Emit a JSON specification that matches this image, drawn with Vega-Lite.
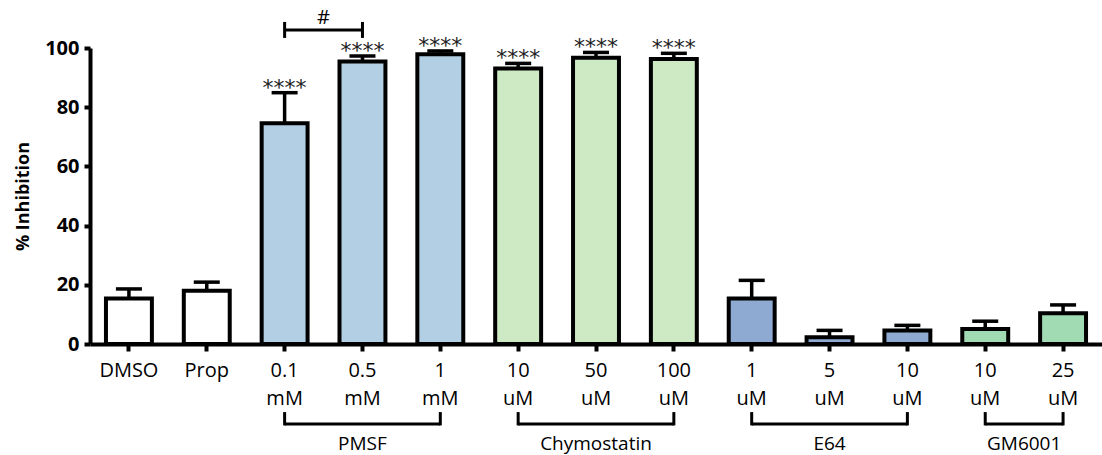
{
  "$schema": "https://vega.github.io/schema/vega-lite/v6.json",
  "width": 1012,
  "height": 296,
  "autosize": {"type": "none"},
  "padding": {"left": 90, "top": 48, "right": 0, "bottom": 111},
  "background": "white",
  "config": {
    "view": {"stroke": null},
    "font": "Open Sans",
    "axis": {"grid": false, "domainColor": "black", "tickColor": "black", "labelColor": "black", "titleColor": "black"}
  },
  "datasets": {
    "bars": [
      {"key": "DMSO", "group": "Control", "value": 15.4, "upper": 18.6, "sig": ""},
      {"key": "Prop", "group": "Control", "value": 18.0, "upper": 20.9, "sig": ""},
      {"key": "PMSF|0.1|mM", "group": "PMSF", "value": 74.6, "upper": 84.9, "sig": "****"},
      {"key": "PMSF|0.5|mM", "group": "PMSF", "value": 95.4, "upper": 97.3, "sig": "****"},
      {"key": "PMSF|1|mM", "group": "PMSF", "value": 97.9, "upper": 99.0, "sig": "****"},
      {"key": "Chymostatin|10|uM", "group": "Chymostatin", "value": 93.1, "upper": 94.8, "sig": "****"},
      {"key": "Chymostatin|50|uM", "group": "Chymostatin", "value": 96.7, "upper": 98.5, "sig": "****"},
      {"key": "Chymostatin|100|uM", "group": "Chymostatin", "value": 96.3, "upper": 98.2, "sig": "****"},
      {"key": "E64|1|uM", "group": "E64", "value": 15.4, "upper": 21.5, "sig": ""},
      {"key": "E64|5|uM", "group": "E64", "value": 2.3, "upper": 4.6, "sig": ""},
      {"key": "E64|10|uM", "group": "E64", "value": 4.6, "upper": 6.3, "sig": ""},
      {"key": "GM6001|10|uM", "group": "GM6001", "value": 5.1, "upper": 7.7, "sig": ""},
      {"key": "GM6001|25|uM", "group": "GM6001", "value": 10.4, "upper": 13.2, "sig": ""}
    ],
    "groups": [
      {"group": "PMSF", "start": "PMSF|0.1|mM", "end": "PMSF|1|mM", "mid": "PMSF|0.5|mM", "even": false},
      {"group": "Chymostatin", "start": "Chymostatin|10|uM", "end": "Chymostatin|100|uM", "mid": "Chymostatin|50|uM", "even": false},
      {"group": "E64", "start": "E64|1|uM", "end": "E64|10|uM", "mid": "E64|5|uM", "even": false},
      {"group": "GM6001", "start": "GM6001|10|uM", "end": "GM6001|25|uM", "mid": "GM6001|10|uM", "even": true}
    ],
    "compare": [
      {"label": "#", "start": "PMSF|0.1|mM", "end": "PMSF|0.5|mM"}
    ]
  },
  "layer": [
    {
      "data": {"name": "bars"},
      "mark": {"type": "rule", "color": "black", "strokeWidth": 3.5},
      "encoding": {
        "x": {
          "field": "key", "type": "nominal",
          "scale": {
            "domain": ["DMSO", "Prop", "PMSF|0.1|mM", "PMSF|0.5|mM", "PMSF|1|mM", "Chymostatin|10|uM", "Chymostatin|50|uM", "Chymostatin|100|uM", "E64|1|uM", "E64|5|uM", "E64|10|uM", "GM6001|10|uM", "GM6001|25|uM"],
            "paddingInner": 0.41, "paddingOuter": 0.205
          },
          "axis": {
            "title": null,
            "labelAngle": 0,
            "labelExpr": "indexof(datum.value, '|') >= 0 ? slice(split(datum.value, '|'), 1) : datum.value",
            "labelFont": "Open Sans",
            "labelFontSize": 20,
            "labelLineHeight": 28,
            "labelPadding": 9,
            "labelBaseline": "top",
            "domainWidth": 4,
            "tickWidth": 4,
            "tickSize": 7
          }
        },
        "y": {
          "field": "value", "type": "quantitative",
          "scale": {"domain": [0, 100], "nice": false, "zero": true},
          "axis": {
            "title": "% Inhibition",
            "titleFont": "Open Sans",
            "titleFontSize": 18,
            "titleFontWeight": "bold",
            "titlePadding": 12,
            "values": [0, 20, 40, 60, 80, 100],
            "labelFont": "Open Sans",
            "labelFontSize": 20,
            "labelFontWeight": "bold",
            "labelPadding": 5,
            "domainWidth": 4,
            "tickWidth": 4,
            "tickSize": 6
          }
        },
        "y2": {"field": "upper"}
      }
    },
    {
      "data": {"name": "bars"},
      "mark": {"type": "tick", "orient": "horizontal", "color": "black", "size": 26, "thickness": 3.5, "opacity": 1},
      "encoding": {
        "x": {"field": "key", "type": "nominal"},
        "y": {"field": "upper", "type": "quantitative"}
      }
    },
    {
      "data": {"name": "bars"},
      "mark": {"type": "bar", "stroke": "black", "strokeWidth": 4, "fillOpacity": 1},
      "encoding": {
        "x": {"field": "key", "type": "nominal"},
        "y": {"field": "value", "type": "quantitative"},
        "fill": {
          "field": "group", "type": "nominal",
          "scale": {"domain": ["Control", "PMSF", "Chymostatin", "E64", "GM6001"], "range": ["#ffffff", "#b3cfe3", "#cdeac4", "#8eaad3", "#a1dbb3"]},
          "legend": null
        }
      }
    },
    {
      "data": {"name": "bars"},
      "mark": {"type": "text", "font": "DejaVu Sans", "fontSize": 22, "baseline": "alphabetic", "align": "center", "dy": 2, "color": "#222222"},
      "encoding": {
        "x": {"field": "key", "type": "nominal"},
        "y": {"field": "upper", "type": "quantitative"},
        "text": {"field": "sig"}
      }
    },
    {
      "data": {"name": "groups"},
      "mark": {"type": "rule", "color": "black", "strokeWidth": 3},
      "encoding": {
        "x": {"field": "start", "type": "nominal"},
        "x2": {"field": "end"},
        "y": {"datum": -27.0}
      }
    },
    {
      "data": {"name": "groups"},
      "mark": {"type": "rule", "color": "black", "strokeWidth": 3},
      "encoding": {
        "x": {"field": "start", "type": "nominal"},
        "y": {"datum": -23.0},
        "y2": {"datum": -27.5}
      }
    },
    {
      "data": {"name": "groups"},
      "mark": {"type": "rule", "color": "black", "strokeWidth": 3},
      "encoding": {
        "x": {"field": "end", "type": "nominal"},
        "y": {"datum": -23.0},
        "y2": {"datum": -27.5}
      }
    },
    {
      "data": {"name": "groups"},
      "transform": [{"filter": "!datum.even"}],
      "mark": {"type": "text", "font": "Open Sans", "fontSize": 19, "baseline": "alphabetic", "align": "center", "color": "black"},
      "encoding": {
        "x": {"field": "mid", "type": "nominal"},
        "y": {"datum": -35.8},
        "text": {"field": "group"}
      }
    },
    {
      "data": {"name": "groups"},
      "transform": [{"filter": "datum.even"}],
      "mark": {"type": "text", "font": "Open Sans", "fontSize": 19, "baseline": "alphabetic", "align": "center", "color": "black"},
      "encoding": {
        "x": {"field": "mid", "type": "nominal", "bandPosition": 1.3475},
        "y": {"datum": -35.8},
        "text": {"field": "group"}
      }
    },
    {
      "data": {"name": "compare"},
      "mark": {"type": "rule", "color": "black", "strokeWidth": 3},
      "encoding": {
        "x": {"field": "start", "type": "nominal"},
        "x2": {"field": "end"},
        "y": {"datum": 106.1}
      }
    },
    {
      "data": {"name": "compare"},
      "mark": {"type": "rule", "color": "black", "strokeWidth": 3},
      "encoding": {
        "x": {"field": "start", "type": "nominal"},
        "y": {"datum": 103.4},
        "y2": {"datum": 108.8}
      }
    },
    {
      "data": {"name": "compare"},
      "mark": {"type": "rule", "color": "black", "strokeWidth": 3},
      "encoding": {
        "x": {"field": "end", "type": "nominal"},
        "y": {"datum": 103.4},
        "y2": {"datum": 108.8}
      }
    },
    {
      "data": {"name": "compare"},
      "mark": {"type": "text", "font": "Open Sans", "fontSize": 20, "baseline": "alphabetic", "align": "center", "color": "black"},
      "encoding": {
        "x": {"field": "start", "type": "nominal", "bandPosition": 1.3475},
        "y": {"datum": 108.2},
        "text": {"field": "label"}
      }
    }
  ]
}
